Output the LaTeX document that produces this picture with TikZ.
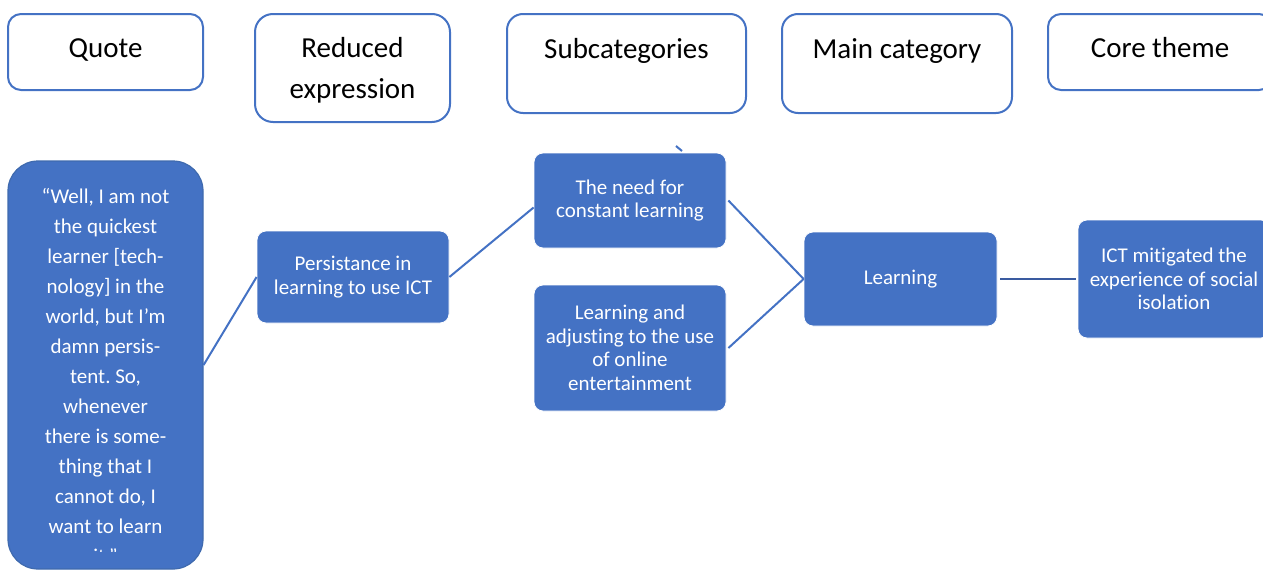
\documentclass[tikz,border=0pt]{standalone}
\usepackage{fontspec}
\setmainfont{Carlito}[Ligatures={NoCommon}]
\definecolor{officeblue}{HTML}{4472C4}
\definecolor{officeedge}{HTML}{3F6AAE}
\definecolor{officedark}{HTML}{3A5BA0}

\begin{document}
\frenchspacing
\begin{tikzpicture}[x=1pt,y=-1pt,
  headbox/.style={draw=officeblue,line width=2pt,fill=white,inner sep=0pt,align=center,
    font=\fontsize{29}{41}\selectfont},
  catbox/.style={draw=white,line width=0.8pt,fill=officeblue,text=white,inner sep=0pt,
    align=center,rounded corners=9pt,font=\fontsize{21}{23.5}\selectfont},
  quotetext/.style={text=white,inner sep=0pt,align=center,font=\fontsize{21}{30}\selectfont},
  link/.style={draw=officeblue,line width=2pt}]

  \clip (0,0) rectangle (1263,570);

  \node[headbox,rounded corners=13pt,minimum width=195pt,text height=43pt,text depth=33pt] (quotehead) at (105.5,52) {Quote};
  \node[headbox,rounded corners=18pt,minimum width=195pt,minimum height=108pt] (reducedhead) at (352.5,68) {\rule{0pt}{24pt}Reduced\\expression};
  \node[headbox,rounded corners=16pt,minimum width=239pt,text height=44pt,text depth=55pt] (subhead) at (626.5,63.5) {Subcategories};
  \node[headbox,rounded corners=16pt,minimum width=230pt,text height=44pt,text depth=55pt] (mainhead) at (897,63.5) {Main category};
  \node[headbox,rounded corners=13pt,minimum width=224pt,text height=43pt,text depth=33pt] (corehead) at (1160,52) {Core theme};

  \node[catbox,draw=officeedge,line width=1.2pt,rounded corners=30pt,minimum width=195pt,minimum height=408pt] (quote) at (105.5,365) {};
  \begin{scope}
    \clip (0,0) rectangle (1263,551);
    \node[quotetext] (quotebody) at (105.5,376) {“Well, I am not\\the quickest\\learner [tech-\\nology] in the\\world, but I’m\\damn persis-\\tent. So,\\whenever\\there is some-\\thing that I\\cannot do, I\\want to learn\\it.”};
  \end{scope}

  \node[catbox,minimum width=192pt,minimum height=92pt] (persist) at (353,277) {Persistance in\\learning to use ICT};
  \node[catbox,minimum width=192pt,minimum height=95pt] (need) at (630,200.5) {The need for\\constant learning};
  \node[catbox,minimum width=192pt,minimum height=126pt] (adjust) at (630,348) {Learning and\\adjusting to the use\\of online\\entertainment};
  \node[catbox,minimum width=193pt,minimum height=94pt] (learn) at (900.5,279) {Learning};
  \node[catbox,minimum width=192pt,minimum height=118pt] (ict) at (1174,279) {ICT mitigated the\\experience of social\\isolation};

  \draw[link] (quote.east) -- (persist.west);
  \draw[link] (persist.east) -- ([yshift=-7pt]need.west);
  \draw[link] ([xshift=2pt]need.east) -- (learn.west);
  \draw[link] ([xshift=2pt]adjust.east) -- (learn.west);
  \draw[link,draw=officedark] ([xshift=3pt]learn.east) -- ([xshift=-2pt]ict.west);
  \coordinate (stubA) at (676,146);
  \coordinate (stubB) at (682,151);
  \draw[link] (stubA) -- (stubB);
\end{tikzpicture}
\end{document}
